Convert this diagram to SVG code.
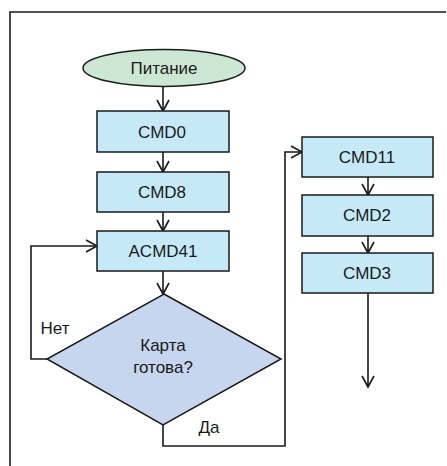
<svg xmlns="http://www.w3.org/2000/svg" width="447" height="466" viewBox="0 0 447 466">
  <style>
    .box { fill: #c6e9f8; stroke: #1a1a1a; stroke-width: 1.5; }
    .start { fill: #cce8d5; stroke: #1a1a1a; stroke-width: 1.5; }
    .decision { fill: #c6d6ef; stroke: #1a1a1a; stroke-width: 1.5; }
    .label { font-family: "Liberation Sans", Arial, sans-serif; font-size: 17px; fill: #1a1a1a; text-anchor: middle; }
    .edge { fill: none; stroke: #1a1a1a; stroke-width: 1.6; }
    .head { fill: none; stroke: #1a1a1a; stroke-width: 1.6; stroke-linecap: butt; stroke-linejoin: miter; }
    .frame { fill: none; stroke: #1a1a1a; stroke-width: 1.6; }
  </style>

  <rect x="0" y="0" width="447" height="466" fill="#ffffff"/>
  <!-- outer frame (left and top edges) -->
  <polyline class="frame" points="10,466 10,12 446,12"/>

  <g id="connectors">
    <!-- Питание -> CMD0 -->
    <line class="edge" x1="163" y1="87" x2="163" y2="111"/>
    <polyline class="head" points="157,100 163,111 169,100"/>
    <!-- CMD0 -> CMD8 -->
    <line class="edge" x1="163" y1="152" x2="163" y2="172"/>
    <polyline class="head" points="157,161 163,172 169,161"/>
    <!-- CMD8 -> ACMD41 -->
    <line class="edge" x1="163" y1="212" x2="163" y2="231"/>
    <polyline class="head" points="157,220 163,231 169,220"/>
    <!-- ACMD41 -> decision -->
    <line class="edge" x1="163" y1="271" x2="163" y2="294"/>
    <polyline class="head" points="157,283 163,294 169,283"/>
    <!-- Нет: loop back to ACMD41 -->
    <polyline class="edge" points="47,359 31,359 31,246 97,246"/>
    <polyline class="head" points="86,240 97,246 86,252"/>
    <!-- Да: to CMD11 -->
    <polyline class="edge" points="163,425 163,446 285,446 285,152 302,152"/>
    <polyline class="head" points="291,146 302,152 291,158"/>
    <!-- CMD11 -> CMD2 -->
    <line class="edge" x1="368" y1="177" x2="368" y2="195"/>
    <polyline class="head" points="362,184 368,195 374,184"/>
    <!-- CMD2 -> CMD3 -->
    <line class="edge" x1="368" y1="236" x2="368" y2="253"/>
    <polyline class="head" points="362,242 368,253 374,242"/>
    <!-- CMD3 -> onward -->
    <line class="edge" x1="368" y1="293" x2="368" y2="387"/>
    <polyline class="head" points="362,376 368,387 374,376"/>
    <text class="label" x="55" y="334">Нет</text>
    <text class="label" x="209" y="433">Да</text>
  </g>

  <g id="power">
    <ellipse class="start" cx="164" cy="68" rx="81" ry="18.5"/>
    <text class="label" x="164" y="74">Питание</text>
  </g>
  <g id="cmd0">
    <rect class="box" x="97" y="111" width="132" height="41"/>
    <text class="label" x="162" y="138">CMD0</text>
  </g>
  <g id="cmd8">
    <rect class="box" x="97" y="172" width="132" height="40"/>
    <text class="label" x="162" y="198">CMD8</text>
  </g>
  <g id="acmd41">
    <rect class="box" x="97" y="231" width="132" height="40"/>
    <text class="label" x="163" y="257">ACMD41</text>
  </g>
  <g id="card-ready">
    <polygon class="decision" points="164,294 281,359 163,425 47,359"/>
    <text class="label" x="163" y="351">Карта</text>
    <text class="label" x="163" y="373">готова?</text>
  </g>
  <g id="cmd11">
    <rect class="box" x="302" y="137" width="131" height="40"/>
    <text class="label" x="367" y="163">CMD11</text>
  </g>
  <g id="cmd2">
    <rect class="box" x="302" y="195" width="131" height="41"/>
    <text class="label" x="367" y="221">CMD2</text>
  </g>
  <g id="cmd3">
    <rect class="box" x="302" y="253" width="131" height="40"/>
    <text class="label" x="367" y="279">CMD3</text>
  </g>
</svg>
